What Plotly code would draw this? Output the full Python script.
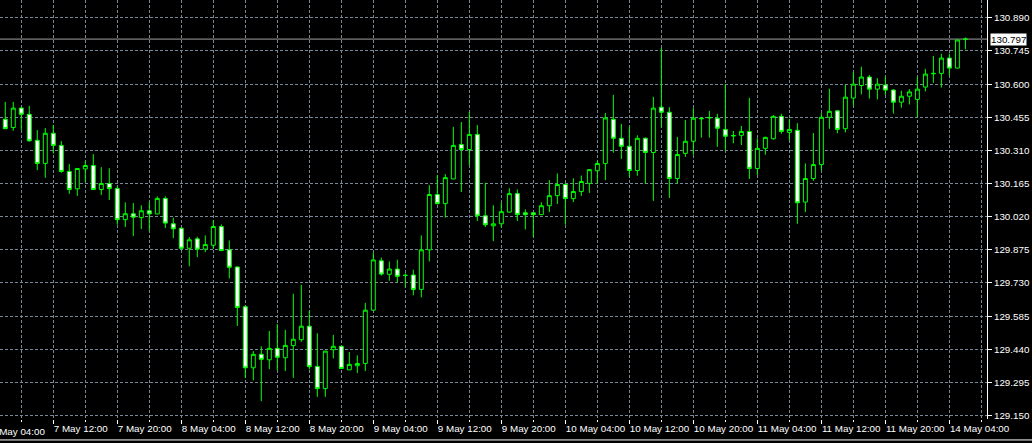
import plotly.graph_objects as go

# ---- data (H1 bars) ----
opens = [130.446, 130.410, 130.495, 130.468, 130.354, 130.253, 130.385, 130.332, 130.218, 130.142,
         130.229, 130.244, 130.139, 130.165, 130.143, 130.007, 130.033, 130.016, 130.046, 130.032,
         130.100, 129.989, 129.969, 129.882, 129.923, 129.878, 129.895, 129.977, 129.875, 129.800,
         129.626, 129.359, 129.418, 129.394, 129.444, 129.403, 129.456, 129.482, 129.541, 129.365,
         129.268, 129.438, 129.453, 129.350, 129.368, 129.378, 129.611, 129.827, 129.768, 129.791,
         129.764, 129.765, 129.702, 129.875, 130.117, 130.077, 130.185, 130.336, 130.314, 130.380,
         130.024, 129.980, 129.989, 130.040, 130.121, 130.037, 130.037, 130.029, 130.068, 130.112,
         130.161, 130.099, 130.130, 130.166, 130.221, 130.253, 130.446, 130.363, 130.328, 130.222,
         130.363, 130.301, 130.499, 130.477, 130.187, 130.297, 130.350, 130.448, 130.452, 130.451,
         130.402, 130.373, 130.376, 130.393, 130.231, 130.319, 130.361, 130.459, 130.389, 130.398,
         130.084, 130.187, 130.248, 130.455, 130.483, 130.405, 130.539, 130.594, 130.631, 130.578,
         130.596, 130.574, 130.521, 130.547, 130.533, 130.587, 130.645, 130.647, 130.714, 130.670,
         130.795]
highs = [130.522, 130.522, 130.499, 130.505, 130.399, 130.408, 130.421, 130.351, 130.250, 130.232,
         130.265, 130.294, 130.237, 130.232, 130.153, 130.083, 130.080, 130.070, 130.084, 130.109,
         130.109, 130.016, 129.975, 129.931, 129.933, 129.938, 130.004, 129.986, 129.916, 129.802,
         129.633, 129.432, 129.453, 129.520, 129.550, 129.525, 129.683, 129.722, 129.608, 129.510,
         129.433, 129.503, 129.454, 129.428, 129.413, 129.643, 129.862, 129.841, 129.824, 129.832,
         129.772, 129.788, 129.938, 130.158, 130.202, 130.206, 130.413, 130.434, 130.478, 130.421,
         130.169, 130.070, 130.083, 130.144, 130.139, 130.052, 130.040, 130.083, 130.180, 130.209,
         130.165, 130.188, 130.200, 130.227, 130.263, 130.474, 130.553, 130.426, 130.414, 130.376,
         130.367, 130.544, 130.758, 130.499, 130.369, 130.443, 130.495, 130.455, 130.483, 130.470,
         130.600, 130.395, 130.417, 130.540, 130.363, 130.370, 130.464, 130.470, 130.448, 130.429,
         130.253, 130.386, 130.473, 130.580, 130.487, 130.597, 130.653, 130.676, 130.640, 130.626,
         130.632, 130.578, 130.571, 130.578, 130.632, 130.667, 130.723, 130.733, 130.733, 130.794,
         130.804]
lows = [130.404, 130.396, 130.399, 130.348, 130.224, 130.190, 130.297, 130.212, 130.120, 130.111,
        130.171, 130.138, 130.115, 130.093, 129.985, 129.975, 129.935, 129.966, 129.958, 130.031,
        129.970, 129.926, 129.875, 129.803, 129.843, 129.865, 129.879, 129.869, 129.750, 129.542,
        129.315, 129.304, 129.213, 129.353, 129.349, 129.345, 129.315, 129.473, 129.352, 129.232,
        129.232, 129.400, 129.355, 129.349, 129.336, 129.345, 129.610, 129.762, 129.740, 129.733,
        129.711, 129.676, 129.667, 129.824, 130.074, 130.016, 130.184, 130.128, 130.244, 130.001,
        129.975, 129.913, 129.974, 130.039, 130.001, 129.964, 129.931, 130.028, 130.040, 130.076,
        129.985, 130.084, 130.111, 130.124, 130.165, 130.180, 130.300, 130.273, 130.194, 130.199,
        130.165, 130.089, 130.411, 130.102, 130.165, 130.282, 130.291, 130.366, 130.366, 130.326,
        130.309, 130.341, 130.333, 130.185, 130.203, 130.291, 130.357, 130.383, 130.355, 129.989,
        130.040, 130.177, 130.224, 130.404, 130.385, 130.389, 130.506, 130.555, 130.537, 130.533,
        130.553, 130.471, 130.497, 130.511, 130.455, 130.568, 130.606, 130.585, 130.638, 130.669,
        130.752]
closes = [130.405, 130.495, 130.468, 130.352, 130.253, 130.385, 130.332, 130.218, 130.139, 130.231,
          130.244, 130.139, 130.165, 130.143, 130.007, 130.033, 130.018, 130.046, 130.032, 130.100,
          129.992, 129.967, 129.882, 129.919, 129.878, 129.898, 129.977, 129.872, 129.799, 129.623,
          129.359, 129.418, 129.396, 129.444, 129.405, 129.457, 129.484, 129.541, 129.364, 129.268,
          129.432, 129.453, 129.356, 129.374, 129.378, 129.611, 129.831, 129.769, 129.791, 129.759,
          129.763, 129.702, 129.875, 130.117, 130.077, 130.191, 130.332, 130.314, 130.380, 130.024,
          129.985, 129.989, 130.042, 130.121, 130.029, 130.029, 130.029, 130.068, 130.112, 130.161,
          130.099, 130.130, 130.174, 130.226, 130.253, 130.452, 130.363, 130.328, 130.222, 130.363,
          130.301, 130.495, 130.477, 130.187, 130.292, 130.350, 130.451, 130.450, 130.454, 130.407,
          130.372, 130.375, 130.393, 130.231, 130.319, 130.367, 130.459, 130.393, 130.402, 130.081,
          130.187, 130.248, 130.455, 130.481, 130.402, 130.543, 130.600, 130.631, 130.578, 130.600,
          130.574, 130.521, 130.547, 130.566, 130.578, 130.644, 130.647, 130.714, 130.670, 130.793,
          130.797]
bars = list(range(len(opens)))

tick_bars = [-2, 6, 14, 22, 30, 38, 46, 54, 62, 70, 78, 86, 94, 102, 110, 118]
tick_labels = ["7 May 04:00", "7 May 12:00", "7 May 20:00", "8 May 04:00", "8 May 12:00",
               "8 May 20:00", "9 May 04:00", "9 May 12:00", "9 May 20:00", "10 May 04:00",
               "10 May 12:00", "10 May 20:00", "11 May 04:00", "11 May 12:00", "11 May 20:00",
               "14 May 04:00"]
price_ticks = [129.150, 129.295, 129.440, 129.585, 129.730, 129.875, 130.020,
               130.165, 130.310, 130.455, 130.600, 130.745, 130.890]
bid = closes[-1]

GRID = "#778899"
LIME = "#00FF00"
FONT = "Liberation Sans, Arial, sans-serif"
FS = 9.8

X_RANGE = [-0.66, 122.7]

fig = go.Figure()
fig.add_trace(go.Candlestick(
    x=bars, open=opens, high=highs, low=lows, close=closes,
    increasing=dict(line=dict(color=LIME, width=1), fillcolor="#000000"),
    decreasing=dict(line=dict(color=LIME, width=1), fillcolor="#FFFFFF"),
    whiskerwidth=0, hoverinfo="skip", showlegend=False))

fig.add_hline(y=bid, line=dict(color="#A0A0A0", width=1), layer="below")
fig.add_annotation(xref="paper", x=1, y=bid, yref="y", text=f"{bid:.3f}", showarrow=False,
                   xanchor="left", yanchor="middle", xshift=3, bgcolor="#FFFFFF",
                   font=dict(color="#000000", size=FS, family=FONT), borderpad=0)
# first (partly cut) time label, left-aligned at its bar like the axis labels
first_frac = (tick_bars[0] - X_RANGE[0]) / (X_RANGE[1] - X_RANGE[0])
fig.add_annotation(xref="paper", x=first_frac, yref="paper", y=0, yanchor="top", xanchor="left",
                   yshift=-5, text=tick_labels[0], showarrow=False,
                   font=dict(color="#FFFFFF", size=FS, family=FONT))
# window frame line under the time scale
fig.add_shape(type="line", xref="paper", yref="paper", x0=0, x1=1.05, y0=-0.05, y1=-0.05,
              line=dict(color="#FFFFFF", width=1))

fig.update_layout(
    width=1032, height=443,
    margin=dict(l=0, r=45, t=0, b=24, autoexpand=False),
    paper_bgcolor="#000000", plot_bgcolor="#000000",
    font=dict(family=FONT, size=FS, color="#FFFFFF"),
    showlegend=False,
    xaxis=dict(range=X_RANGE, rangeslider=dict(visible=False), automargin=False,
               tickvals=tick_bars, ticktext=tick_labels, tickangle=0,
               ticklabelposition="outside right", ticks="outside", ticklen=4, tickcolor="#FFFFFF",
               showgrid=True, gridcolor=GRID, griddash="3px,2px", gridwidth=1, zeroline=False,
               showline=False,
               minor=dict(tick0=2, dtick=4, showgrid=True, gridcolor=GRID, griddash="3px,2px",
                          ticks="outside", ticklen=2, tickcolor="#FFFFFF")),
    yaxis=dict(side="right", range=[129.135, 130.968], tickvals=price_ticks, automargin=False,
               ticktext=[f"{v:.3f}" for v in price_ticks],
               ticks="outside", ticklen=4, tickcolor="#FFFFFF",
               showline=True, linecolor="#FFFFFF", linewidth=1,
               showgrid=True, gridcolor=GRID, griddash="3px,2px", gridwidth=1, zeroline=False),
)

fig.write_html("out.html", config={"displayModeBar": False},
               post_script="document.body.style.margin='0';document.body.style.background='#000';")
